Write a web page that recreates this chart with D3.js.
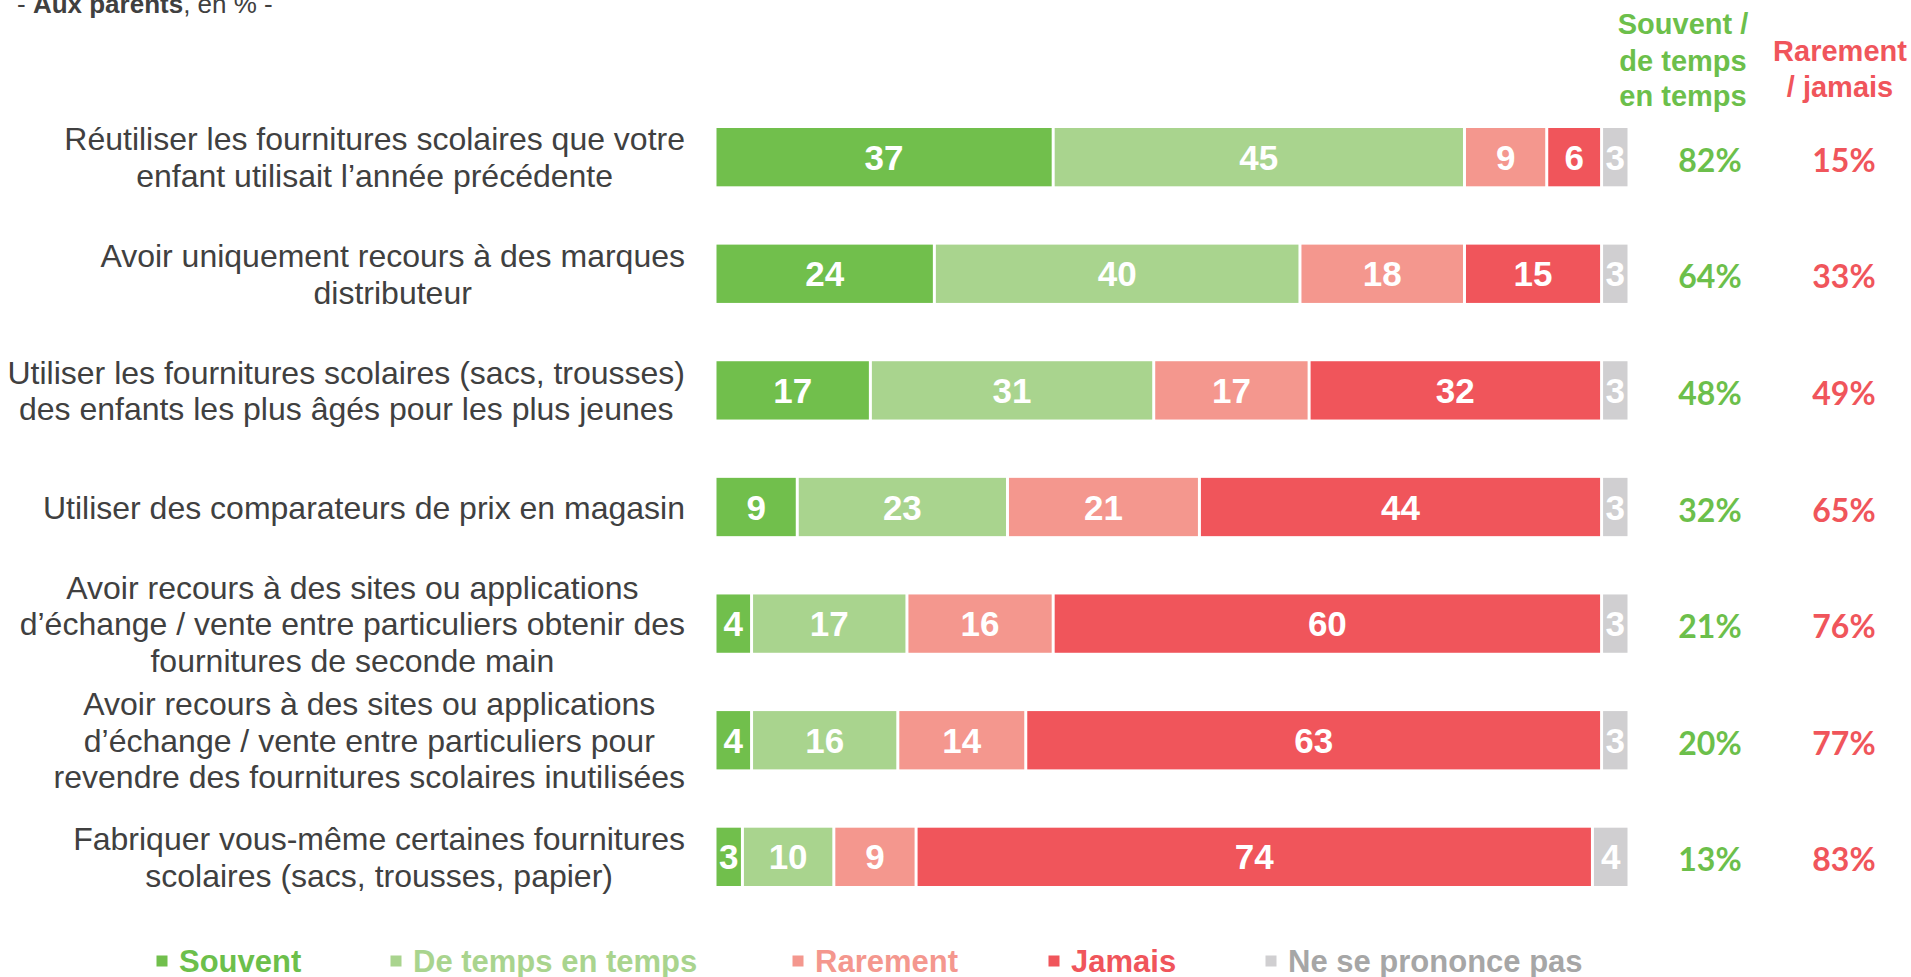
<!DOCTYPE html>
<html>
<head>
<meta charset="utf-8">
<script src="https://cdn.jsdelivr.net/npm/d3@7"></script>
<style>
  body { margin: 0; background: #fff; }
  svg { display: block; font-family: "Liberation Sans", Arial, sans-serif; }
</style>
</head>
<body>
<svg width="1911" height="977"></svg>
<script>
// data
var categories = [
  ["Réutiliser les fournitures scolaires que votre", "enfant utilisait l’année précédente"],
  ["Avoir uniquement recours à des marques", "distributeur"],
  ["Utiliser les fournitures scolaires (sacs, trousses)", "des enfants les plus âgés pour les plus jeunes"],
  ["Utiliser des comparateurs de prix en magasin"],
  ["Avoir recours à des sites ou applications", "d’échange / vente entre particuliers obtenir des", "fournitures de seconde main"],
  ["Avoir recours à des sites ou applications", "d’échange / vente entre particuliers pour", "revendre des fournitures scolaires inutilisées"],
  ["Fabriquer vous-même certaines fournitures", "scolaires (sacs, trousses, papier)"]
];
var series = ["Souvent", "De temps en temps", "Rarement", "Jamais", "Ne se prononce pas"];
var souvent = [37, 24, 17, 9, 4, 4, 3];
var deTemps = [45, 40, 31, 23, 17, 16, 10];
var rarement = [9, 18, 17, 21, 16, 14, 9];
var jamais = [6, 15, 32, 44, 60, 63, 74];
var nsp = [3, 3, 3, 3, 3, 3, 4];
var colors = ["#71BF4C", "#A9D48E", "#F4978E", "#F0555B", "#D0CFD1"];
var legendText = ["#6CBF4B", "#A9D48E", "#F4978E", "#F0555B", "#A6A6A6"];

var svg = d3.select("svg");

// scales
var rows = d3.range(categories.length);
var x = d3.scaleLinear().domain([0, 100]).range([715, 1629]);
var y = d3.scaleBand().domain(rows).range([128, 886]).paddingInner(0.5).paddingOuter(0);

var table = rows.map(function (i) {
  return { i: i, vals: [souvent[i], deTemps[i], rarement[i], jamais[i], nsp[i]] };
});
var stack = d3.stack().keys([0, 1, 2, 3, 4]).value(function (d, k) { return d.vals[k]; });
var layers = stack(table);

// title
var title = svg.append("text").attr("x", 17).attr("y", 13)
  .attr("font-size", 26).attr("fill", "#404040");
title.append("tspan").text("- ");
title.append("tspan").attr("font-weight", "bold").text("Aux parents");
title.append("tspan").text(", en % -");

// bars
var g = svg.append("g");
layers.forEach(function (layer, k) {
  var lg = g.append("g");
  lg.selectAll("rect").data(layer).enter().append("rect")
    .attr("x", function (d) { return x(d[0]) + 1.5; })
    .attr("y", function (d) { return y(d.data.i); })
    .attr("width", function (d) { return Math.max(0, x(d[1]) - x(d[0]) - 3); })
    .attr("height", y.bandwidth())
    .attr("fill", colors[k]);
  lg.selectAll("text").data(layer).enter().append("text")
    .attr("x", function (d) { return (x(d[0]) + x(d[1])) / 2; })
    .attr("y", function (d) { return y(d.data.i) + y.bandwidth() / 2; })
    .attr("dy", "0.36em")
    .attr("text-anchor", "middle")
    .attr("font-size", 35).attr("font-weight", "bold").attr("fill", "#fff")
    .text(function (d) { return d[1] - d[0]; });
});

// category labels: block right-aligned, lines centered inside
var lh = 36.5;
rows.forEach(function (i) {
  var lines = categories[i];
  var cy = y(i) + y.bandwidth() / 2;
  var tg = svg.append("g");
  var ts = tg.selectAll("text").data(lines).enter().append("text")
    .attr("y", function (d, j) { return cy + (j - (lines.length - 1) / 2) * lh; })
    .attr("dy", "0.36em")
    .attr("text-anchor", "middle")
    .attr("font-size", 32).attr("fill", "#404040")
    .text(function (d) { return d; });
  var maxW = d3.max(ts.nodes(), function (n) { return n.getComputedTextLength(); });
  ts.attr("x", 685 - maxW / 2);
});

// column headers
var headG = [["Souvent /", "de temps", "en temps"], ["Rarement", "/ jamais"]];
var headX = [1683, 1840];
var headY = [[24, 61, 96], [51, 87]];
var headC = ["#6CBF4B", "#F0555B"];
headG.forEach(function (lines, c) {
  svg.append("g").selectAll("text").data(lines).enter().append("text")
    .attr("x", headX[c])
    .attr("y", function (d, j) { return headY[c][j]; })
    .attr("dy", "0.36em")
    .attr("text-anchor", "middle")
    .attr("font-size", 29).attr("font-weight", "bold").attr("fill", headC[c])
    .text(function (d) { return d; });
});

// totals
svg.append("g").selectAll("text").data(rows).enter().append("text")
  .attr("x", 1710)
  .attr("y", function (i) { return y(i) + y.bandwidth() / 2 + 3; })
  .attr("dy", "0.36em").attr("text-anchor", "middle")
  .attr("font-family", "Lato, sans-serif")
  .attr("font-size", 32).attr("font-weight", "bold").attr("fill", "#6CBF4B")
  .text(function (i) { return (souvent[i] + deTemps[i]) + "%"; });
svg.append("g").selectAll("text").data(rows).enter().append("text")
  .attr("x", 1844)
  .attr("y", function (i) { return y(i) + y.bandwidth() / 2 + 3; })
  .attr("dy", "0.36em").attr("text-anchor", "middle")
  .attr("font-family", "Lato, sans-serif")
  .attr("font-size", 32).attr("font-weight", "bold").attr("fill", "#F0555B")
  .text(function (i) { return (rarement[i] + jamais[i]) + "%"; });

// legend
var legX = [162, 396, 798, 1054, 1271];
var leg = svg.append("g").selectAll("g").data(series).enter().append("g")
  .attr("transform", function (d, k) { return "translate(" + legX[k] + ",961)"; });
leg.append("rect").attr("x", -5.5).attr("y", -5.5).attr("width", 11).attr("height", 11)
  .attr("fill", function (d, k) { return colors[k]; });
leg.append("text").attr("x", 17).attr("dy", "0.36em")
  .attr("font-size", 31).attr("font-weight", "bold")
  .attr("fill", function (d, k) { return legendText[k]; })
  .text(function (d) { return d; });
</script>
</body>
</html>
